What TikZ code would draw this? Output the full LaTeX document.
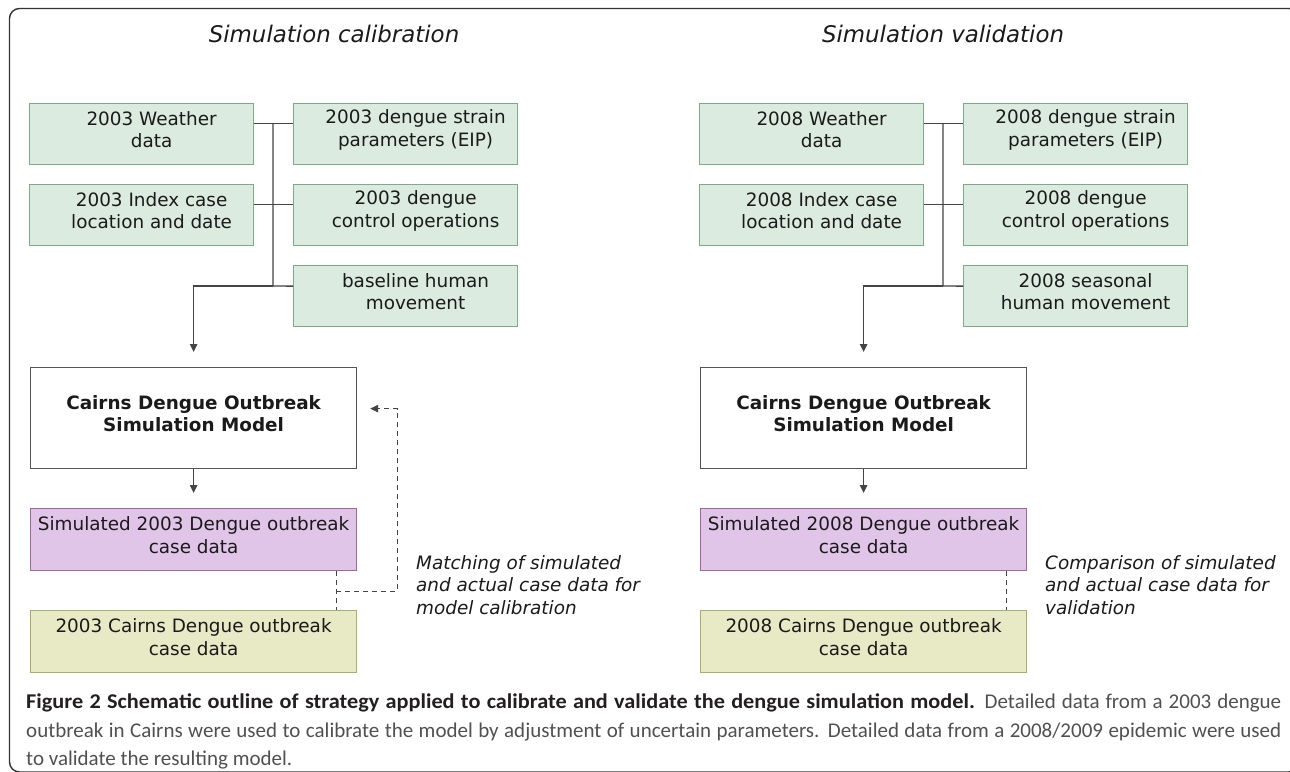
\documentclass[tikz,border=0pt]{standalone}
\usepackage{fontspec}
\setmainfont{DejaVu Sans}
\newfontfamily\capfont{Carlito}[BoldFeatures={FakeStretch=1.06}]
\usetikzlibrary{arrows.meta,calc}
\definecolor{gfill}{HTML}{DCEBDF}
\definecolor{gline}{HTML}{7FAA88}
\definecolor{pfill}{HTML}{E1C5E9}
\definecolor{pline}{HTML}{9B6B93}
\definecolor{yfill}{HTML}{E8E9C5}
\definecolor{yline}{HTML}{A9AD6C}
\definecolor{mline}{HTML}{555555}
\definecolor{ccol}{HTML}{444444}
\definecolor{framecol}{HTML}{333333}
\definecolor{tcol}{HTML}{1A1A1A}
\definecolor{capbold}{HTML}{231F20}
\definecolor{capgrey}{HTML}{505050}
\begin{document}
\begin{tikzpicture}[x=1pt,y=-1pt,
  box/.style={draw, line width=1.2pt, anchor=north west, inner sep=0pt},
  gbox/.style={box, draw=gline, fill=gfill, minimum width=224pt, minimum height=61pt},
  mbox/.style={box, draw=mline, fill=white, minimum width=326pt, minimum height=101pt},
  pbox/.style={box, draw=pline, fill=pfill, minimum width=326pt, minimum height=62pt},
  ybox/.style={box, draw=yline, fill=yfill, minimum width=326pt, minimum height=62pt},
  btext/.style={font=\fontsize{18.4}{22.7}\selectfont, align=center, inner sep=0pt, text=tcol},
  gtext/.style={btext, xshift=10pt, yshift=4.5pt},
  ctext/.style={btext, yshift=4.5pt},
  ltext/.style={font=\fontsize{18.4}{22.5}\selectfont\itshape, align=left, inner sep=0pt, text=tcol, anchor=west},
  ttext/.style={font=\fontsize{22.9}{27}\selectfont\itshape, inner sep=0pt, text=tcol},
  conn/.style={draw=ccol, line width=1.3pt},
  arr/.style={conn, -{Triangle[length=8pt,width=7.5pt]}},
  dashline/.style={draw=ccol, line width=1.2pt, dash pattern=on 5pt off 4pt},
  darr/.style={dashline, -{Triangle[length=8pt,width=7.5pt]}}
]
\useasboundingbox (0,0) rectangle (1290,771);
\draw[framecol, line width=1.4pt, rounded corners=10pt] (9.5,8.5) rectangle (1299,772);

% ---------- titles
\node[ttext] (t1) at (334,34) {Simulation calibration};
\node[ttext] (t2) at (943,34) {Simulation validation};

% ---------- left panel
\node[gbox] (lw) at (29,103) {};
\node[gbox] (ls) at (293,103) {};
\node[gbox] (li) at (29,184) {};
\node[gbox] (lc) at (293,184) {};
\node[gbox] (lb) at (293,265) {};
\node[mbox] (lm) at (30,367) {};
\node[pbox] (lp) at (30,508) {};
\node[ybox] (ly) at (30,610) {};

\node[gtext] (lwt) at (lw.center) {2003 Weather\\data};
\node[gtext] (lst) at (ls.center) {2003 dengue strain\\parameters (EIP)};
\node[gtext] (lit) at (li.center) {2003 Index case\\location and date};
\node[gtext] (lct) at (lc.center) {2003 dengue\\control operations};
\node[gtext] (lbt) at (lb.center) {baseline human\\movement};
\node[ctext, font=\fontsize{18.4}{22.7}\selectfont\bfseries] (lmt) at (lm.center) {Cairns Dengue Outbreak\\Simulation Model};
\node[ctext] (lpt) at (lp.center) {Simulated 2003 Dengue outbreak\\case data};
\node[ctext] (lyt) at (ly.center) {2003 Cairns Dengue outbreak\\case data};

\coordinate (ltop) at (273,123);
\coordinate (lbot) at (273,286);
\coordinate (ltip) at ($(lm.north)+(0,-15)$);
\draw[conn] ($(lw.north east)!0.33!(lw.south east)$) -- ($(ls.north west)!0.33!(ls.south west)$);
\draw[conn] ($(li.north east)!0.33!(li.south east)$) -- ($(lc.north west)!0.33!(lc.south west)$);
\draw[conn] (ltop) -- (lbot) -- ($(lb.north west)!0.34!(lb.south west)$);
\draw[arr] (lbot) -| (ltip);
\draw[arr] (lm.south) -- ($(lp.north)+(0,-15)$);

\coordinate (ld1) at ($(lp.south east)+(-21,20)$);
\coordinate (lfb) at ($(lm.east)+(13,-9.5)$);
\draw[dashline] ($(lp.south east)+(-21,0)$) -- (ld1) -- ($(ly.north east)+(-21,0)$);
\draw[darr] (ld1) -- ++(61,0) |- (lfb);
\node[ltext] (llab) at (416,585) {Matching of simulated\\and actual case data for\\model calibration};

% ---------- right panel
\node[gbox] (rw) at (699,103) {};
\node[gbox] (rs) at (963,103) {};
\node[gbox] (ri) at (699,184) {};
\node[gbox] (rc) at (963,184) {};
\node[gbox] (rb) at (963,265) {};
\node[mbox] (rm) at (700,367) {};
\node[pbox] (rp) at (700,508) {};
\node[ybox] (ry) at (700,610) {};

\node[gtext] (rwt) at (rw.center) {2008 Weather\\data};
\node[gtext] (rst) at (rs.center) {2008 dengue strain\\parameters (EIP)};
\node[gtext] (rit) at (ri.center) {2008 Index case\\location and date};
\node[gtext] (rct) at (rc.center) {2008 dengue\\control operations};
\node[gtext] (rbt) at (rb.center) {2008 seasonal\\human movement};
\node[ctext, font=\fontsize{18.4}{22.7}\selectfont\bfseries] (rmt) at (rm.center) {Cairns Dengue Outbreak\\Simulation Model};
\node[ctext] (rpt) at (rp.center) {Simulated 2008 Dengue outbreak\\case data};
\node[ctext] (ryt) at (ry.center) {2008 Cairns Dengue outbreak\\case data};

\coordinate (rtop) at (943,123);
\coordinate (rbot) at (943,286);
\coordinate (rtip) at ($(rm.north)+(0,-15)$);
\draw[conn] ($(rw.north east)!0.33!(rw.south east)$) -- ($(rs.north west)!0.33!(rs.south west)$);
\draw[conn] ($(ri.north east)!0.33!(ri.south east)$) -- ($(rc.north west)!0.33!(rc.south west)$);
\draw[conn] (rtop) -- (rbot) -- ($(rb.north west)!0.34!(rb.south west)$);
\draw[arr] (rbot) -| (rtip);
\draw[arr] (rm.south) -- ($(rp.north)+(0,-15)$);
\draw[dashline] ($(rp.south east)+(-21,0)$) -- ($(ry.north east)+(-21,0)$);
\node[ltext] (rlab) at (1045,585) {Comparison of simulated\\and actual case data for\\validation};

% ---------- caption
\node[anchor=north west, text width=1255pt, align=justify, inner sep=0pt,
      font=\capfont\fontsize{21}{28.3}\selectfont] (cap) at (26,694)
 {\textcolor{capbold}{\textbf{Figure 2 Schematic outline of strategy applied to calibrate and validate the dengue simulation model.}} \textcolor{capgrey}{Detailed data from a 2003 dengue\linebreak outbreak in Cairns were used to calibrate the model by adjustment of uncertain parameters. Detailed data from a 2008/2009 epidemic were used\linebreak to validate the resulting model.}};
\end{tikzpicture}
\end{document}
